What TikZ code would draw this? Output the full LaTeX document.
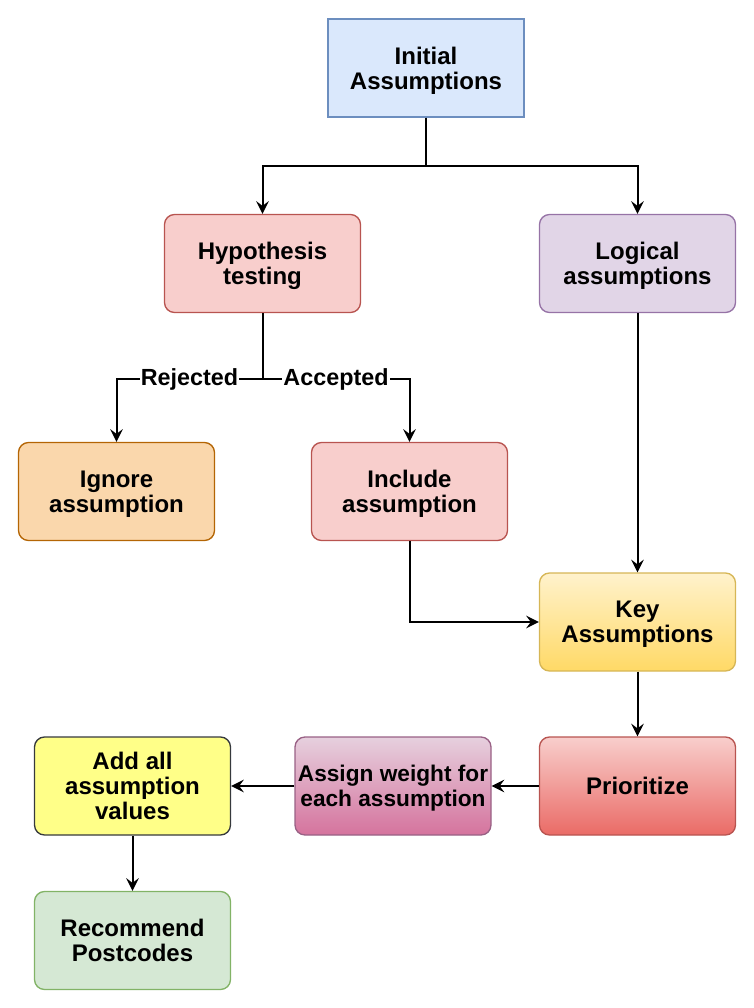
\documentclass[tikz,border=0pt]{standalone}
\usepackage{fontspec}
\setmainfont{Liberation Sans}
\usetikzlibrary{arrows.meta}

\definecolor{initfill}{HTML}{DAE8FC}
\definecolor{initline}{HTML}{6C8EBF}
\definecolor{redfill}{HTML}{F8CECC}
\definecolor{redline}{HTML}{B85450}
\definecolor{redlow}{HTML}{EA6B66}
\definecolor{purpfill}{HTML}{E1D5E7}
\definecolor{purpline}{HTML}{9673A6}
\definecolor{orfill}{HTML}{FAD7AC}
\definecolor{orline}{HTML}{B46504}
\definecolor{keytop}{HTML}{FFF2CC}
\definecolor{keylow}{HTML}{FFD966}
\definecolor{keyline}{HTML}{D6B656}
\definecolor{pinktop}{HTML}{E6D0DE}
\definecolor{pinklow}{HTML}{D5739D}
\definecolor{pinkline}{HTML}{996185}
\definecolor{yelfill}{HTML}{FFFF88}
\definecolor{yelline}{HTML}{36393D}
\definecolor{grnfill}{HTML}{D5E8D4}
\definecolor{grnline}{HTML}{82B366}

\begin{document}
\begin{tikzpicture}[x=0.75pt, y=-0.75pt,
	box/.style={draw, line width=1pt, minimum width=147pt, minimum height=73.5pt,
		align=center, inner sep=1pt, rounded corners=7.5pt, text depth=-3pt,
		font=\bfseries\fontsize{18}{18.75}\selectfont},
	arr/.style={line width=1.5pt, -{Stealth[length=9.5pt,width=9.5pt,inset=3.5pt]}},
	lbl/.style={fill=white, inner sep=1pt, font=\bfseries\fontsize{17.5}{18}\selectfont}]
		\useasboundingbox (0,0) rectangle (754,1008);
		
		%top row
		\node[box, sharp corners, fill=initfill, draw=initline] (init) at (426, 68) {Initial\\Assumptions};
		\node[box, fill=redfill, draw=redline] (hyp) at (262.5, 263.5) {Hypothesis\\testing};
		\node[box, fill=purpfill, draw=purpline] (logic) at (637.5, 263.5) {Logical\\assumptions};
		
		%outcome of testing
		\node[box, fill=orfill, draw=orline] (ignore) at (116.5, 491.5) {Ignore\\assumption};
		\node[box, fill=redfill, draw=redline] (include) at (409.5, 491.5) {Include\\assumption};
		
		%weighting chain
		\node[box, top color=keytop, bottom color=keylow, draw=keyline] (key) at (637.5, 622) {Key\\Assumptions};
		\node[box, top color=redfill, bottom color=redlow, draw=redline] (prior) at (637.5, 786) {Prioritize};
		\node[box, top color=pinktop, bottom color=pinklow, draw=pinkline, font=\bfseries\fontsize{17}{18.75}\selectfont] (assign) at (393, 786) {Assign weight for\\each assumption};
		\node[box, fill=yelfill, draw=yelline] (add) at (132.5, 786) {Add all\\assumption\\values};
		\node[box, fill=grnfill, draw=grnline] (recom) at (132.5, 940.5) {Recommend\\Postcodes};
		
		%connectors
		\draw[arr] (init.south) -- ++(0,48) -| (hyp.north);
		\draw[arr] (init.south) -- ++(0,48) -| (logic.north);
		\draw[arr] (hyp.south) -- ++(0,66) -| node[lbl, pos=0.25]{Rejected} (ignore.north);
		\draw[arr] (hyp.south) -- ++(0,66) -| node[lbl, pos=0.25]{Accepted} (include.north);
		\draw[arr] (logic.south) -- (key.north);
		\draw[arr] (include.south) |- (key.west);
		\draw[arr] (key.south) -- (prior.north);
		\draw[arr] (prior.west) -- (assign.east);
		\draw[arr] (assign.west) -- (add.east);
		\draw[arr] (add.south) -- (recom.north);
\end{tikzpicture}
\end{document}
